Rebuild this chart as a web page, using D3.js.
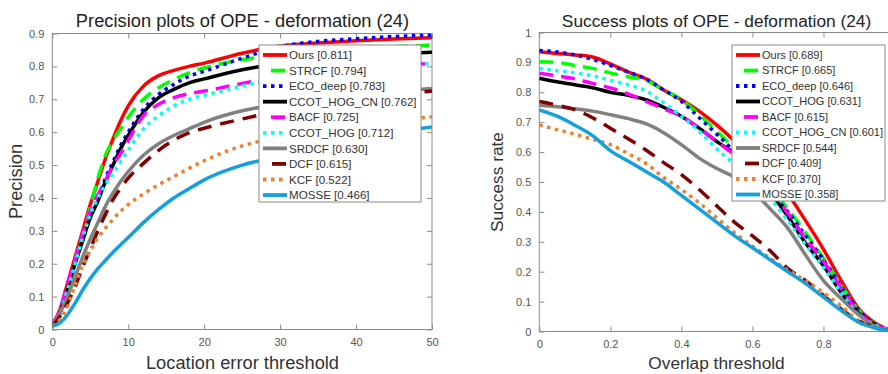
<!DOCTYPE html>
<html><head><meta charset="utf-8">
<script src="https://cdn.jsdelivr.net/npm/d3@7"></script>
<style>
body{margin:0;background:#fff;}
svg{display:block;font-family:"Liberation Sans",Arial,Helvetica,sans-serif;}
</style>
</head><body>
<svg id="chart" width="888" height="374"></svg>
<script>
// ---------------- DATA ----------------
const precMethods = ["Ours","STRCF","ECO_deep","CCOT_HOG_CN","BACF","CCOT_HOG","SRDCF","DCF","KCF","MOSSE"];
const precScores  = ["0.811","0.794","0.783","0.762","0.725","0.712","0.630","0.615","0.522","0.466"];
const succMethods = ["Ours","STRCF","ECO_deep","CCOT_HOG","BACF","CCOT_HOG_CN","SRDCF","DCF","KCF","MOSSE"];
const succScores  = ["0.689","0.665","0.646","0.631","0.615","0.601","0.544","0.409","0.370","0.358"];

const precThresholds = [0,1,2,3,4,5,6,7,8,9,10,12,14,16,18,20,25,30,35,40,45,50];
const precOurs   = [0.015,0.06,0.14,0.22,0.30,0.38,0.45,0.52,0.58,0.635,0.68,0.74,0.772,0.788,0.80,0.81,0.84,0.862,0.871,0.878,0.883,0.887];
const precSTRCF  = [0.015,0.05,0.13,0.21,0.29,0.37,0.46,0.53,0.575,0.61,0.645,0.70,0.735,0.76,0.78,0.795,0.82,0.835,0.845,0.853,0.86,0.865];
const precECO    = [0.015,0.05,0.12,0.20,0.27,0.34,0.40,0.46,0.51,0.56,0.60,0.67,0.715,0.745,0.77,0.785,0.825,0.86,0.876,0.884,0.891,0.895];
const precCCOTCN = [0.015,0.05,0.12,0.20,0.27,0.34,0.39,0.45,0.50,0.55,0.59,0.66,0.705,0.73,0.75,0.762,0.79,0.808,0.82,0.83,0.838,0.843];
const precBACF   = [0.015,0.06,0.14,0.21,0.29,0.36,0.41,0.45,0.50,0.535,0.575,0.65,0.685,0.705,0.717,0.725,0.748,0.77,0.785,0.795,0.803,0.809];
const precCCOT   = [0.015,0.05,0.12,0.20,0.28,0.35,0.40,0.44,0.475,0.51,0.545,0.61,0.65,0.68,0.70,0.712,0.74,0.765,0.78,0.793,0.802,0.809];
const precSRDCF  = [0.015,0.05,0.10,0.16,0.22,0.275,0.325,0.375,0.415,0.45,0.48,0.53,0.565,0.59,0.61,0.63,0.665,0.685,0.70,0.712,0.723,0.733];
const precDCF    = [0.01,0.04,0.08,0.13,0.19,0.245,0.30,0.35,0.395,0.43,0.46,0.505,0.545,0.576,0.598,0.612,0.64,0.665,0.685,0.70,0.713,0.725];
const precKCF    = [0.01,0.03,0.07,0.135,0.195,0.24,0.278,0.308,0.335,0.36,0.38,0.412,0.44,0.465,0.49,0.513,0.558,0.585,0.605,0.62,0.635,0.647];
const precMOSSE  = [0.01,0.02,0.045,0.08,0.12,0.155,0.185,0.21,0.235,0.258,0.28,0.325,0.365,0.40,0.428,0.455,0.50,0.525,0.55,0.575,0.60,0.616];

const succThresholds = [0,0.05,0.1,0.15,0.2,0.25,0.3,0.35,0.4,0.45,0.5,0.55,0.6,0.65,0.7,0.75,0.8,0.85,0.9,0.95,1];
const succOurs   = [0.936,0.93,0.925,0.918,0.895,0.868,0.845,0.808,0.775,0.737,0.69,0.635,0.565,0.51,0.458,0.37,0.275,0.17,0.075,0.025,0];
const succSTRCF  = [0.902,0.9,0.89,0.88,0.865,0.852,0.84,0.808,0.775,0.725,0.67,0.61,0.545,0.48,0.41,0.33,0.245,0.155,0.07,0.02,0];
const succECO    = [0.94,0.935,0.925,0.91,0.89,0.868,0.845,0.808,0.77,0.715,0.66,0.6,0.54,0.47,0.4,0.32,0.24,0.15,0.07,0.02,0];
const succCCOT   = [0.847,0.835,0.825,0.815,0.8,0.79,0.775,0.75,0.72,0.68,0.635,0.595,0.535,0.465,0.385,0.295,0.22,0.13,0.06,0.02,0];
const succBACF   = [0.864,0.855,0.845,0.83,0.815,0.795,0.77,0.745,0.72,0.68,0.635,0.59,0.53,0.47,0.395,0.31,0.235,0.145,0.06,0.02,0];
const succCCOTCN = [0.88,0.872,0.865,0.855,0.84,0.825,0.805,0.765,0.72,0.67,0.61,0.56,0.51,0.445,0.37,0.29,0.215,0.13,0.055,0.02,0];
const succSRDCF  = [0.757,0.752,0.745,0.737,0.725,0.712,0.695,0.665,0.625,0.58,0.545,0.515,0.47,0.41,0.345,0.255,0.17,0.11,0.055,0.015,0];
const succDCF    = [0.769,0.757,0.742,0.715,0.68,0.645,0.607,0.565,0.525,0.475,0.42,0.365,0.32,0.27,0.21,0.17,0.12,0.075,0.035,0.012,0];
const succKCF    = [0.691,0.675,0.66,0.643,0.625,0.595,0.562,0.515,0.475,0.43,0.38,0.33,0.285,0.245,0.205,0.17,0.13,0.085,0.035,0.012,0];
const succMOSSE  = [0.741,0.72,0.69,0.655,0.605,0.57,0.535,0.50,0.455,0.41,0.365,0.32,0.28,0.24,0.2,0.16,0.115,0.07,0.03,0.01,0];

const precXTicks = [0,10,20,30,40,50];
const precYTicks = [0,0.1,0.2,0.3,0.4,0.5,0.6,0.7,0.8,0.9];
const precYLabels = ["0","0.1","0.2","0.3","0.4","0.5","0.6","0.7","0.8","0.9"];
const succXTicks = [0,0.2,0.4,0.6,0.8,1];
const succXLabels = ["0","0.2","0.4","0.6","0.8",""];
const succYTicks = [0,0.1,0.2,0.3,0.4,0.5,0.6,0.7,0.8,0.9,1];
const succYLabels = ["0","0.1","0.2","0.3","0.4","0.5","0.6","0.7","0.8","0.9","1"];

// ---------------- STYLE ----------------
const colors = ["#ff0000","#00ff00","#0000ff","#000000","#ff00ff","#00ffff","#808080","#800000","#f0802f","#12a0e0"];
const dashes = [null,"14,8","3.5,4.5",null,"14,8","3.5,4.5",null,"14,9","3.5,4.5",null];
const dashOffsets = [0,14,0,0,14,0,0,14,0,0];

const svg = d3.select("#chart");
const axisColor = "#8a8a8a";
const tickTextColor = "#555";

function drawPanel(cfg){
  const g = svg.append("g");
  const x = d3.scaleLinear().domain(cfg.xDomain).range([cfg.left, cfg.right]);
  const y = d3.scaleLinear().domain(cfg.yDomain).range([cfg.bottom, cfg.top]);
  const clipId = "clip" + cfg.id;
  svg.append("clipPath").attr("id", clipId).append("rect")
    .attr("x", cfg.left).attr("y", cfg.top)
    .attr("width", cfg.right - cfg.left).attr("height", cfg.bottom - cfg.top);

  const fmtX = (d,i) => cfg.xLabels ? cfg.xLabels[i] : String(d);
  const fmtY = (d,i) => cfg.yLabels[i];
  const ax = g.append("g").attr("transform", `translate(0,${cfg.bottom})`)
    .call(d3.axisBottom(x).tickValues(cfg.xTicks).tickFormat(fmtX).tickSizeInner(-5).tickSizeOuter(0).tickPadding(9));
  const ay = g.append("g").attr("transform", `translate(${cfg.left},0)`)
    .call(d3.axisLeft(y).tickValues(cfg.yTicks).tickFormat(fmtY).tickSizeInner(-5).tickSizeOuter(0).tickPadding(8));
  const at = g.append("g").attr("transform", `translate(0,${cfg.top})`)
    .call(d3.axisTop(x).tickValues(cfg.xTicks).tickFormat("").tickSizeInner(-5).tickSizeOuter(0));
  const ar = g.append("g").attr("transform", `translate(${cfg.right},0)`)
    .call(d3.axisRight(y).tickValues(cfg.yTicks).tickFormat("").tickSizeInner(-5).tickSizeOuter(0));
  [ax,ay,at,ar].forEach(a=>{
    a.select(".domain").remove();
    a.selectAll("line").attr("stroke", axisColor);
    a.selectAll("text").attr("fill", tickTextColor).style("font-size","11px")
      .style("font-family",'"Liberation Sans",Arial,sans-serif');
  });
  g.append("rect").attr("x", cfg.left).attr("y", cfg.top)
    .attr("width", cfg.right - cfg.left).attr("height", cfg.bottom - cfg.top)
    .attr("fill","none").attr("stroke", axisColor).attr("stroke-width",1);

  const line = d3.line().x((d,i)=>x(cfg.thresholds[i])).y(d=>y(d)).curve(d3.curveMonotoneX);
  const lg = g.append("g").attr("clip-path", `url(#${clipId})`);
  cfg.series.forEach((s,k)=>{
    lg.append("path").attr("d", line(s)).attr("fill","none")
      .attr("stroke", colors[k]).attr("stroke-width", 3.5)
      .attr("stroke-dasharray", dashes[k])
      .attr("stroke-linejoin","round");
  });

  const L = cfg.legend;
  const leg = g.append("g");
  leg.append("rect").attr("x", L.x).attr("y", L.y).attr("width", L.w).attr("height", L.h)
    .attr("fill","#fff").attr("stroke","#8a8a8a").attr("stroke-width",1);
  cfg.names.forEach((n,k)=>{
    const yy = L.y + L.first + k*L.step;
    leg.append("line").attr("x1", L.x+4).attr("x2", L.x+28).attr("y1", yy).attr("y2", yy)
      .attr("stroke", colors[k]).attr("stroke-width", 3.8)
      .attr("stroke-dasharray", dashes[k]).attr("stroke-dashoffset", dashOffsets[k]);
    leg.append("text").attr("x", L.x+30).attr("y", yy).attr("dy","0.36em")
      .style("font-size", L.font+"px").attr("fill","#333")
      .text(`${n} [${cfg.scores[k]}]`);
  });

  g.append("text").attr("x", cfg.titleX).attr("y", 27).attr("text-anchor","middle")
    .style("font-size", cfg.titleFont+"px").attr("fill","#222").text(cfg.title);
  g.append("text").attr("x", cfg.titleX).attr("y", 369).attr("text-anchor","middle")
    .style("font-size", cfg.titleFont+"px").attr("fill","#333").text(cfg.xTitle);
  g.append("text").attr("transform", `translate(${cfg.yTitleX},${(cfg.top+cfg.bottom)/2}) rotate(-90)`)
    .attr("text-anchor","middle").style("font-size", cfg.titleFont+"px").attr("fill","#333").text(cfg.yTitle);
}

drawPanel({
  id:"P", xDomain:[0,50], yDomain:[0,0.9], left:52.3, right:432, top:33.5, bottom:329.5,
  xTicks:precXTicks, yTicks:precYTicks, yLabels:precYLabels, thresholds:precThresholds,
  series:[precOurs,precSTRCF,precECO,precCCOTCN,precBACF,precCCOT,precSRDCF,precDCF,precKCF,precMOSSE],
  names:precMethods, scores:precScores,
  legend:{x:259,y:45,w:162,h:157,first:10,step:15.56,font:11.6},
  title:"Precision plots of OPE - deformation (24)", xTitle:"Location error threshold", yTitle:"Precision",
  titleX:242.5, titleFont:18.3, yTitleX:22
});
drawPanel({
  id:"S", xDomain:[0,1], yDomain:[0,1], left:539.3, right:894.5, top:32.5, bottom:331.5,
  xTicks:succXTicks, xLabels:succXLabels, yTicks:succYTicks, yLabels:succYLabels, thresholds:succThresholds,
  series:[succOurs,succSTRCF,succECO,succCCOT,succBACF,succCCOTCN,succSRDCF,succDCF,succKCF,succMOSSE],
  names:succMethods, scores:succScores,
  legend:{x:732,y:45,w:153,h:156,first:10,step:15.5,font:11},
  title:"Success plots of OPE - deformation (24)", xTitle:"Overlap threshold", yTitle:"Success rate",
  titleX:716.5, titleFont:17.3, yTitleX:503
});
</script>
</body></html>
